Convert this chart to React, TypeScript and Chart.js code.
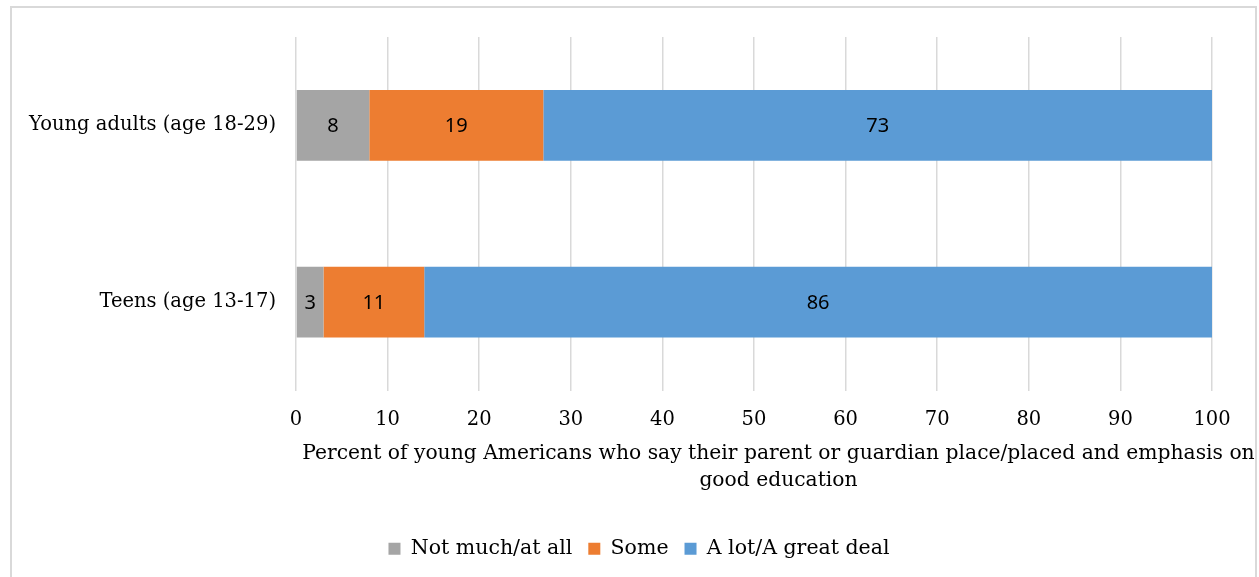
import React, { useEffect, useRef } from 'react';
import { Chart, registerables } from 'chart.js';

Chart.register(...registerables);

const categories = ['Young adults (age 18-29)', 'Teens (age 13-17)'];
const seriesNames = ['Not much/at all', 'Some', 'A lot/A great deal'];
const notMuch = [8, 3];
const some = [19, 11];
const aLot = [73, 86];
const seriesColors = ['#a5a5a5', '#ed7d31', '#5b9bd5'];
const axisTitleLines = [
  'Percent of young Americans who say their parent or guardian place/placed and emphasis on',
  'good education',
];

const SERIF = '"DejaVu Serif", serif';
const SANS = '"Noto Sans", sans-serif';

const barLabels = {
  id: 'barLabels',
  afterDatasetsDraw(chart: any) {
    const ctx = chart.ctx;
    ctx.save();
    ctx.font = `20px ${SANS}`;
    ctx.fillStyle = '#000';
    ctx.textAlign = 'center';
    ctx.textBaseline = 'middle';
    chart.data.datasets.forEach((ds: any, i: number) => {
      const meta = chart.getDatasetMeta(i);
      meta.data.forEach((el: any, j: number) => {
        const p = el.getProps(['x', 'y', 'base'], true);
        ctx.fillText(String(ds.data[j]), (p.x + p.base) / 2, p.y + 1);
      });
    });
    ctx.restore();
  },
};

const axisTitle = {
  id: 'axisTitle',
  afterDraw(chart: any) {
    const ctx = chart.ctx;
    const area = chart.chartArea;
    ctx.save();
    ctx.font = `20.3px ${SERIF}`;
    ctx.fillStyle = '#000';
    ctx.textAlign = 'center';
    ctx.textBaseline = 'middle';
    const cx = (area.left + chart.width) / 2 + 1;
    axisTitleLines.forEach((line, i) => {
      ctx.fillText(line, cx, area.bottom + 63 + i * 27);
    });
    ctx.restore();
  },
};

// Centre the legend on the framed chart rather than on the plot's left part
const legendShift = {
  id: 'legendShift',
  afterLayout(chart: any) {
    if (chart.legend) chart.legend.left += 66;
  },
};

export default function App() {
  const ref = useRef<HTMLCanvasElement | null>(null);

  useEffect(() => {
    if (!ref.current) return;
    const data = [notMuch, some, aLot];
    const chart = new Chart(ref.current, {
      type: 'bar',
      data: {
        labels: categories,
        datasets: seriesNames.map((name, i) => ({
          label: name,
          data: data[i],
          backgroundColor: seriesColors[i],
          borderWidth: 0,
          barPercentage: 0.4,
          categoryPercentage: 1,
        })),
      },
      options: {
        indexAxis: 'y',
        responsive: false,
        animation: false,
        maintainAspectRatio: false,
        layout: { padding: { left: 0, right: 47, top: 37, bottom: 8 } },
        scales: {
          x: {
            stacked: true,
            min: 0,
            max: 100,
            ticks: {
              stepSize: 10,
              color: '#000',
              padding: 18,
              font: { family: SERIF, size: 19.5 },
            },
            grid: { color: '#d9d9d9', lineWidth: 1.5, drawTicks: false },
            border: { display: false },
            afterFit: (s: any) => {
              s.height = 132;
            },
          },
          y: {
            stacked: true,
            ticks: {
              color: '#000',
              padding: 20,
              font: { family: SERIF, size: 19.5 },
            },
            grid: { display: false, drawTicks: false },
            border: { display: false },
            afterFit: (s: any) => {
              s.width = 296;
            },
          },
        },
        plugins: {
          legend: {
            position: 'bottom',
            labels: {
              boxWidth: 12,
              boxHeight: 12,
              padding: 16,
              color: '#000',
              font: { family: SERIF, size: 20.5 },
            },
          },
          tooltip: { enabled: false },
        },
      },
      plugins: [barLabels, axisTitle, legendShift],
    } as any);
    return () => chart.destroy();
  }, []);

  return (
    <div style={{ position: 'absolute', left: 0, top: 0, width: 1259, height: 577, background: '#fff', overflow: 'hidden' }}>
      <div
        style={{
          position: 'absolute',
          left: 10,
          top: 6,
          width: 1247,
          height: 600,
          border: '2px solid #d9d9d9',
          boxSizing: 'border-box',
        }}
      />
      <canvas ref={ref} width={1259} height={577} style={{ position: 'absolute', left: 0, top: 0 }} />
    </div>
  );
}
